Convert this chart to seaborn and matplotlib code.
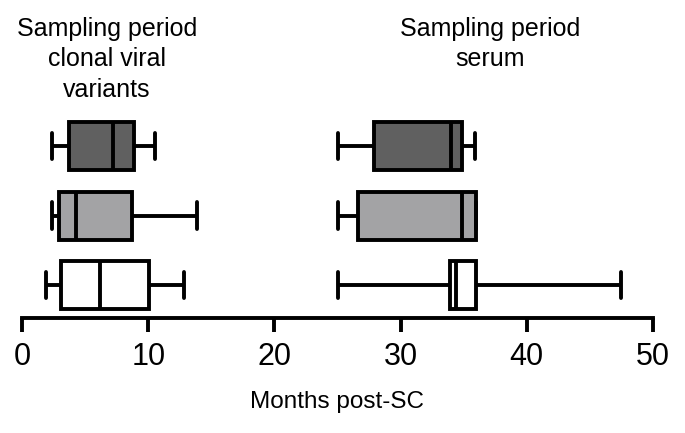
import numpy as np
import matplotlib
matplotlib.use("Agg")
import matplotlib.pyplot as plt
import seaborn as sns
import pandas as pd

# groups, top to bottom
groups = ["Group 1", "Group 2", "Group 3"]
colors = ["#606060", "#a3a3a5", "#ffffff"]

# five-number summaries: min, Q1, median, Q3, max
clonal = {
    "Group 1": [2.4, 3.7, 7.2, 8.9, 10.5],
    "Group 2": [2.4, 2.9, 4.3, 8.7, 13.9],
    "Group 3": [1.9, 3.1, 6.2, 10.1, 12.8],
}
serum = {
    "Group 1": [25.0, 27.9, 34.0, 34.9, 35.9],
    "Group 2": [25.0, 26.6, 34.9, 36.0, 36.0],
    "Group 3": [25.0, 33.9, 34.4, 36.0, 47.5],
}


def to_frame(d):
    rows = [(g, v) for g in groups for v in d[g]]
    return pd.DataFrame(rows, columns=["group", "months"])


sns.set_style("white")
plt.rcParams["font.family"] = ["Liberation Sans", "DejaVu Sans"]
plt.rcParams["text.color"] = "black"
plt.rcParams["axes.labelcolor"] = "black"
plt.rcParams["xtick.color"] = "black"

fig = plt.figure(figsize=(6.85, 4.33), dpi=100)
ax = fig.add_axes([22 / 685, 1 - 318 / 433, 631 / 685, 208 / 433])

box_kw = dict(
    y="group", x="months", hue="group", order=groups, hue_order=groups,
    palette=colors, legend=False, whis=np.inf, width=0.69, linewidth=2.8,
    linecolor="black", saturation=1, ax=ax,
)
sns.boxplot(data=to_frame(clonal), **box_kw)
sns.boxplot(data=to_frame(serum), **box_kw)

# shorter whisker caps
for line in ax.lines:
    ys = line.get_ydata()
    xs = line.get_xdata()
    if len(ys) == 2 and xs[0] == xs[1] and 0 < abs(ys[1] - ys[0]) < 0.5:
        mid = (ys[0] + ys[1]) / 2
        line.set_ydata([mid - 0.19, mid + 0.19])

ax.set_xlim(0, 50)
ax.set_ylim(2.475, -0.52)
ax.set_xticks([0, 10, 20, 30, 40, 50])
ax.set_yticks([])
ax.set_ylabel("")
ax.set_xlabel("Months post-SC", fontsize=17.5, labelpad=14)
for s in ["top", "right", "left"]:
    ax.spines[s].set_visible(False)
ax.spines["bottom"].set_linewidth(2.8)
ax.spines["bottom"].set_color("black")
ax.tick_params(axis="x", direction="out", length=10, width=2.8,
               labelsize=22, pad=7, bottom=True)

fig.text(107 / 685, 1 - 17 / 433, "Sampling period\nclonal viral\nvariants",
         ha="center", va="top", fontsize=18, linespacing=1.33)
fig.text(490 / 685, 1 - 17 / 433, "Sampling period\nserum",
         ha="center", va="top", fontsize=18, linespacing=1.33)

fig.savefig("out.png", dpi=100)
